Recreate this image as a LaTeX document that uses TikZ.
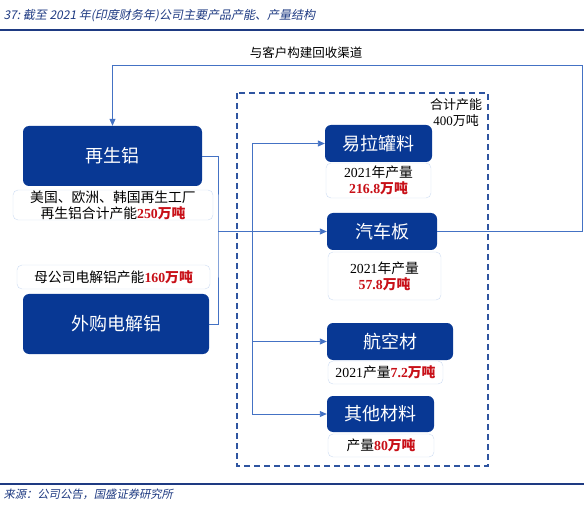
\documentclass[tikz,border=0pt]{standalone}
\usepackage{fontspec}
\usetikzlibrary{arrows.meta}
\setmainfont{Noto Sans CJK SC}
\newfontfamily\tnr{Liberation Serif}
\newfontfamily\titlefont[FakeSlant=0.2]{Noto Sans CJK SC}
\definecolor{boxblue}{RGB}{8,56,148}
\definecolor{lineblue}{RGB}{68,114,196}
\definecolor{edgeblue}{RGB}{206,220,243}
\definecolor{dashblue}{RGB}{46,84,160}
\definecolor{numred}{RGB}{200,16,24}
\definecolor{titleblue}{RGB}{30,58,130}
\newcommand\rednum[1]{\textcolor{numred}{\bfseries\tnr #1\rmfamily 万吨}}
\tikzset{
  prod/.style={fill=boxblue, rounded corners=6pt, text=white, font=\fontsize{18}{20}\selectfont, inner sep=0pt},
  note/.style={draw=edgeblue, fill=white, rounded corners=5pt, font=\fontsize{13.8}{16}\selectfont, align=center, inner sep=0pt},
  link/.style={draw=lineblue, line width=0.9pt},
  dashbox/.style={draw=dashblue, line width=1.3pt, dash pattern=on 6pt off 4pt},
}

\begin{document}
\begin{tikzpicture}[x=1pt,y=-1pt,>={Triangle[length=7pt,width=6pt]}]
\useasboundingbox (0,0) rectangle (584,505);
\node[anchor=west, text=titleblue, font=\titlefont\fontsize{12}{14}\selectfont] (title) at (0,16) {37:\ 截至 2021 年(印度财务年)公司主要产品产能、产量结构};
\draw[titleblue, line width=1.8pt] (0,30) -- (584,30);
\draw[titleblue, line width=1.8pt] (0,484) -- (584,484);
\node[anchor=west, text=titleblue, font=\titlefont\fontsize{11.3}{14}\selectfont] (src) at (0,494) {来源：公司公告，国盛证券研究所};

\draw[dashbox] (237,93) rectangle (488,466);
\node[align=center, font=\fontsize{13}{16}\selectfont] (total) at (456,113) {合计产能\\{\tnr 400}万吨};

\node[prod, minimum width=179pt, minimum height=60pt] (zsl) at (112.5,156) {再生铝};
\node[note, minimum width=200pt, minimum height=30pt] (zslnote) at (113,205) {美国、欧洲、韩国再生工厂\\再生铝合计产能\rednum{250}};
\node[note, minimum width=193pt, minimum height=24pt] (wgnote) at (113.5,277) {母公司电解铝产能\rednum{160}};
\node[prod, minimum width=186pt, minimum height=60pt] (wg) at (116,324) {外购电解铝};

\node[prod, minimum width=107pt, minimum height=37pt] (ylg) at (378.5,143.5) {易拉罐料};
\node[note, minimum width=105pt, minimum height=35pt] (ylgnote) at (378.5,180.5) {{\tnr 2021}年产量\\\rednum{216.8}};
\node[prod, minimum width=110pt, minimum height=37pt] (qcb) at (382,231.5) {汽车板};
\node[note, minimum width=113pt, minimum height=48pt] (qcbnote) at (384.5,276) {{\tnr 2021}年产量\\\rednum{57.8}};
\node[prod, minimum width=126pt, minimum height=37pt] (hkc) at (390,341.5) {航空材};
\node[note, minimum width=115pt, minimum height=23pt] (hkcnote) at (385.5,372.5) {{\tnr 2021}产量\rednum{7.2}};
\node[prod, minimum width=107pt, minimum height=36pt] (qt) at (380.5,414) {其他材料};
\node[note, minimum width=106pt, minimum height=23pt] (qtnote) at (381,445.5) {产量\rednum{80}};

\coordinate (jm) at (218,231.5);
\coordinate (bus) at (252,0);
\coordinate (fb) at (582,65);
\draw[link] (zsl.east) -| (jm) |- (wg.east);
\draw[link,->] (jm) -- (qcb.west);
\draw[link] (bus |- ylg.west) -- (bus |- qt.west);
\draw[link,->] (bus |- ylg.west) -- (ylg.west);
\draw[link,->] (bus |- hkc.west) -- (hkc.west);
\draw[link,->] (bus |- qt.west) -- (qt.west);
\draw[link,->] (qcb.east) -| (fb) -| (zsl.north);
\node[font=\fontsize{12.5}{16}\selectfont] (back) at (306,53) {与客户构建回收渠道};
\end{tikzpicture}
\end{document}
